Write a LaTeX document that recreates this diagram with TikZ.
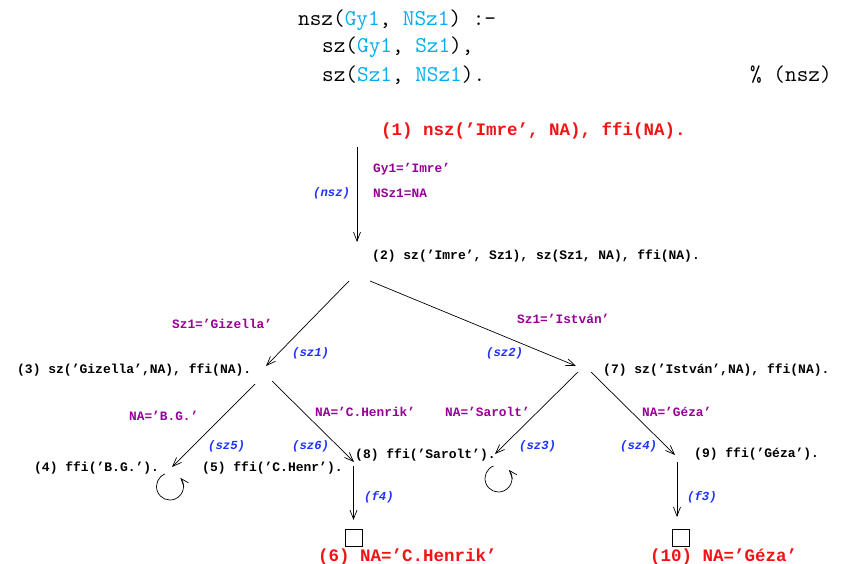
\documentclass[tikz,border=0pt]{standalone}
\usepackage{fontspec}
\newfontfamily\cour{Liberation Mono}
\usetikzlibrary{arrows.meta}
\definecolor{cy}{RGB}{0,174,239}
\definecolor{rd}{RGB}{240,20,20}
\definecolor{pu}{RGB}{150,0,150}
\definecolor{bl}{RGB}{30,50,255}
\begin{document}
\begin{tikzpicture}[x=1bp,y=-1bp,
  hdr/.style={anchor=west,inner sep=0,font=\fontsize{22.6bp}{27bp}\ttfamily},
  goal/.style={anchor=west,inner sep=0,font=\fontsize{13bp}{15bp}\cour\bfseries},
  res/.style={anchor=west,inner sep=0,text=rd,font=\fontsize{17.5bp}{20bp}\cour\bfseries},
  bind/.style={anchor=west,inner sep=0,text=pu,font=\fontsize{12.8bp}{15bp}\cour\bfseries},
  rulelbl/.style={anchor=west,inner sep=0,text=bl,font=\fontsize{12.3bp}{14bp}\cour\bfseries\itshape},
  edgearr/.style={draw,line width=0.7bp,-{Straight Barb[length=9bp,width=7bp]}},
  looparr/.style={draw,line width=0.7bp,-{Straight Barb[length=8bp,width=6bp]}},
  endbox/.style={draw,line width=0.7bp,minimum size=17bp,inner sep=0}
]
\useasboundingbox (0,0) rectangle (845,564);
% header clause
\node[hdr] (h1) at (298,20) {nsz(\textcolor{cy}{Gy1}, \textcolor{cy}{NSz1}) :-};
\node[hdr] (h2) at (322,47) {sz(\textcolor{cy}{Gy1}, \textcolor{cy}{Sz1}),};
\node[hdr] (h3) at (322,75) {sz(\textcolor{cy}{Sz1}, \textcolor{cy}{NSz1}).};
\node[hdr] (h4) at (750,75) {\% (nsz)};
% goals
\node[res]  (g1) at (381,131) {(1) nsz(’Imre’, NA), ffi(NA).};
\node[goal] (g2) at (372,256) {(2) sz(’Imre’, Sz1), sz(Sz1, NA), ffi(NA).};
\node[goal] (g3) at (17,370) {(3) sz(’Gizella’,NA), ffi(NA).};
\node[goal] (g7) at (603,370) {(7) sz(’István’,NA), ffi(NA).};
\node[goal] (g4) at (34,468) {(4) ffi(’B.G.’).};
\node[goal] (g5) at (202,468) {(5) ffi(’C.Henr’).};
\node[goal] (g8) at (355,455) {(8) ffi(’Sarolt’).};
\node[goal] (g9) at (694,454) {(9) ffi(’Géza’).};
\node[endbox] (b6) at (353.5,537.5) {};
\node[endbox] (b10) at (681,537.5) {};
\node[res] (g6) at (318,557) {(6) NA=’C.Henrik’};
\node[res] (g10) at (650,557) {(10) NA=’Géza’};
% connector ends
\coordinate (a1s) at (357,147);  \coordinate (a1e) at (357,242);
\coordinate (a2s) at (349,281);  \coordinate (a2e) at (266,366);
\coordinate (a3s) at (370,281);  \coordinate (a3e) at (576,366);
\coordinate (a4s) at (255,384);  \coordinate (a4e) at (172,467);
\coordinate (a5s) at (272,381);  \coordinate (a5e) at (354,462);
\coordinate (a6s) at (578,372);  \coordinate (a6e) at (495,454);
\coordinate (a7s) at (591,372);  \coordinate (a7e) at (675,455);
\coordinate (a8s) at (353.5,466); \coordinate (a8e) at (353.5,520);
\coordinate (a9s) at (677,462);  \coordinate (a9e) at (677,517);
\coordinate (lp4) at (170,486.5);
\coordinate (lp8) at (498.5,478.5);
% connectors
\draw[edgearr] (a1s) -- (a1e);
\draw[edgearr] (a2s) -- (a2e);
\draw[edgearr] (a3s) -- (a3e);
\draw[edgearr] (a4s) -- (a4e);
\draw[edgearr] (a5s) -- (a5e);
\draw[edgearr] (a6s) -- (a6e);
\draw[edgearr] (a7s) -- (a7e);
\draw[edgearr] (a8s) -- (a8e);
\draw[edgearr] (a9s) -- (a9e);
\draw[looparr] (lp4) ++(-112:13.5) arc[start angle=-112,end angle=-400,radius=13.5];
\draw[looparr] (lp8) ++(-112:13.5) arc[start angle=-112,end angle=-400,radius=13.5];
% bindings
\node[bind] (b1) at (373,169) {Gy1=’Imre’};
\node[bind] (b2) at (373,193) {NSz1=NA};
\node[bind] (b3) at (172,324) {Sz1=’Gizella’};
\node[bind] (b4) at (517,319) {Sz1=’István’};
\node[bind] (b5) at (129,416) {NA=’B.G.’};
\node[bind] (b7) at (315,412) {NA=’C.Henrik’};
\node[bind] (b8) at (445,412) {NA=’Sarolt’};
\node[bind] (b9) at (642,412) {NA=’Géza’};
% rule labels
\node[rulelbl] (r1) at (313,193) {(nsz)};
\node[rulelbl] (r2) at (292,353) {(sz1)};
\node[rulelbl] (r3) at (486,353) {(sz2)};
\node[rulelbl] (r4) at (208,446) {(sz5)};
\node[rulelbl] (r5) at (292,446) {(sz6)};
\node[rulelbl] (r6) at (519,446) {(sz3)};
\node[rulelbl] (r7) at (620,446) {(sz4)};
\node[rulelbl] (r8) at (364,497) {(f4)};
\node[rulelbl] (r9) at (687,497) {(f3)};
\end{tikzpicture}
\end{document}
